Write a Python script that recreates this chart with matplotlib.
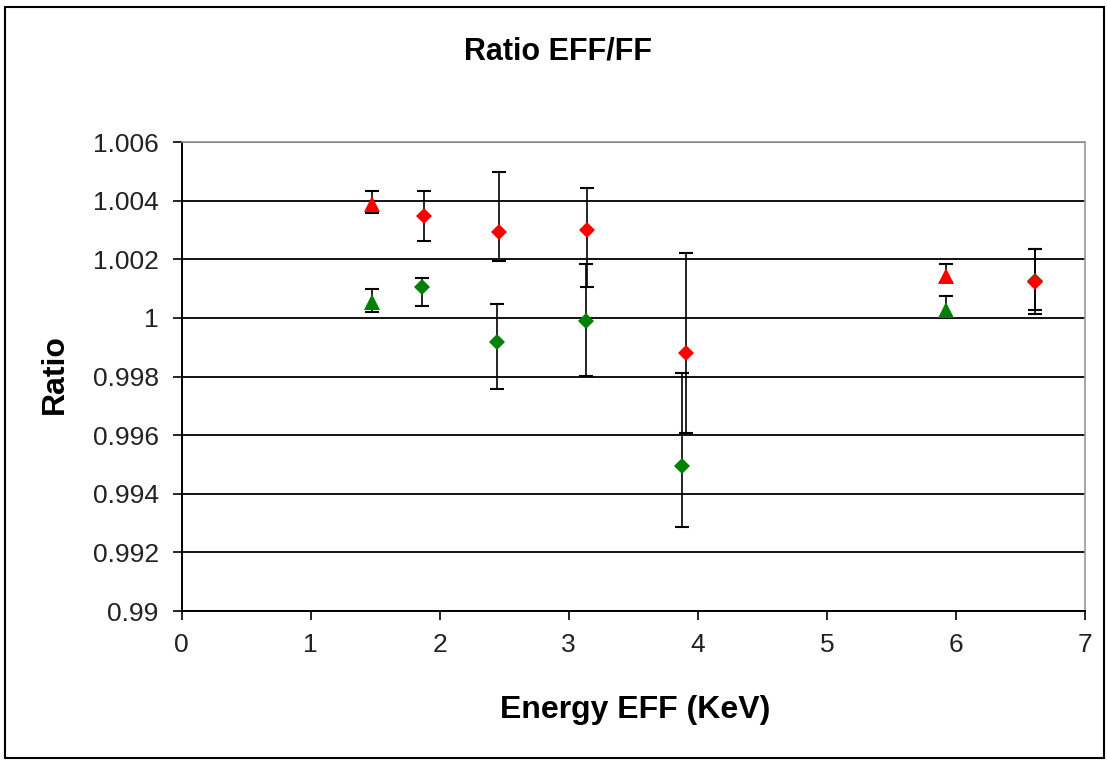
import numpy as np
import matplotlib.pyplot as plt
from matplotlib.patches import Rectangle
from matplotlib.ticker import FuncFormatter

plt.rcParams['font.family'] = ['Liberation Sans', 'DejaVu Sans']

# red series (triangles and diamonds)
red_tri_x = [1.475, 5.92]
red_tri_y = [1.00389, 1.00144]
red_tri_lo = [1.00357, 1.00123]
red_tri_hi = [1.00434, 1.00183]

red_dia_x = [1.877, 2.459, 3.141, 3.905, 6.612]
red_dia_y = [1.00348, 1.00292, 1.00299, 0.99882, 1.00123]
red_dia_lo = [1.00263, 1.00195, 1.00105, 0.99609, 1.00027]
red_dia_hi = [1.00434, 1.00499, 1.00442, 1.00220, 1.00234]

# green series
green_tri_x = [1.475, 5.92]
green_tri_y = [1.00053, 1.00028]
green_tri_lo = [1.00019, 0.99999]
green_tri_hi = [1.00098, 1.00075]

green_dia_x = [1.86, 2.446, 3.13, 3.879, 6.612]
green_dia_y = [1.00106, 0.99918, 0.99990, 0.99495, 1.00126]
green_dia_lo = [1.00041, 0.99759, 0.99802, 0.99287, 1.00013]
green_dia_hi = [1.00135, 1.00047, 1.00183, 0.99811, 1.00234]

yticks = [0.99, 0.992, 0.994, 0.996, 0.998, 1.0, 1.002, 1.004, 1.006]
xticks = [0, 1, 2, 3, 4, 5, 6, 7]

fig = plt.figure(figsize=(11.07, 7.60), dpi=100)
ax = fig.add_axes([0.1641, 0.196, 0.8160, 0.617])


def draw(x, y, lo, hi, color, marker, ms):
    y = np.array(y)
    yerr = [y - np.array(lo), np.array(hi) - y]
    ax.errorbar(x, y, yerr=yerr, fmt='none', ecolor='black', elinewidth=1.2,
                capsize=5, capthick=1.5, zorder=3)
    ax.plot(x, y, linestyle='none', marker=marker, ms=ms, color=color,
            markeredgewidth=0, zorder=4)


draw(green_dia_x, green_dia_y, green_dia_lo, green_dia_hi, '#008000', 'D', 8.5)
draw(green_tri_x, green_tri_y, green_tri_lo, green_tri_hi, '#008000', '^', 11)
draw(red_dia_x, red_dia_y, red_dia_lo, red_dia_hi, '#ff0000', 'D', 8.5)
draw(red_tri_x, red_tri_y, red_tri_lo, red_tri_hi, '#ff0000', '^', 11)

ax.set_xlim(0, 7)
ax.set_ylim(0.99, 1.006)
ax.set_xticks(xticks)
ax.set_yticks(yticks)
ax.yaxis.set_major_formatter(FuncFormatter(lambda v, p: f"{round(v, 3):g}"))
ax.yaxis.grid(True, color='black', linewidth=1.3)
ax.set_axisbelow(True)

ax.tick_params(axis='both', direction='out', length=6.5, width=1.2,
               labelsize=19, colors='black', labelcolor='#222222')
ax.tick_params(axis='y', pad=10)
ax.tick_params(axis='x', pad=9)
for s in ['left', 'bottom']:
    ax.spines[s].set_color('black')
    ax.spines[s].set_linewidth(1.4)
for s in ['top', 'right']:
    ax.spines[s].set_color('#999999')
    ax.spines[s].set_linewidth(1.2)

fig.text(0.504, 0.932, 'Ratio EFF/FF', ha='center', va='center',
         fontsize=22, fontweight='bold')
fig.text(0.5735, 0.066, 'Energy EFF (KeV)', ha='center', va='center',
         fontsize=23, fontweight='bold')
fig.text(0.050, 0.508, 'Ratio', ha='center', va='center', rotation=90,
         fontsize=23, fontweight='bold')

fig.patches.append(Rectangle((0.0045, 0.003), 0.993, 0.988,
                             transform=fig.transFigure, fill=False,
                             edgecolor='black', linewidth=1.5))

fig.savefig('out.png', dpi=100)
